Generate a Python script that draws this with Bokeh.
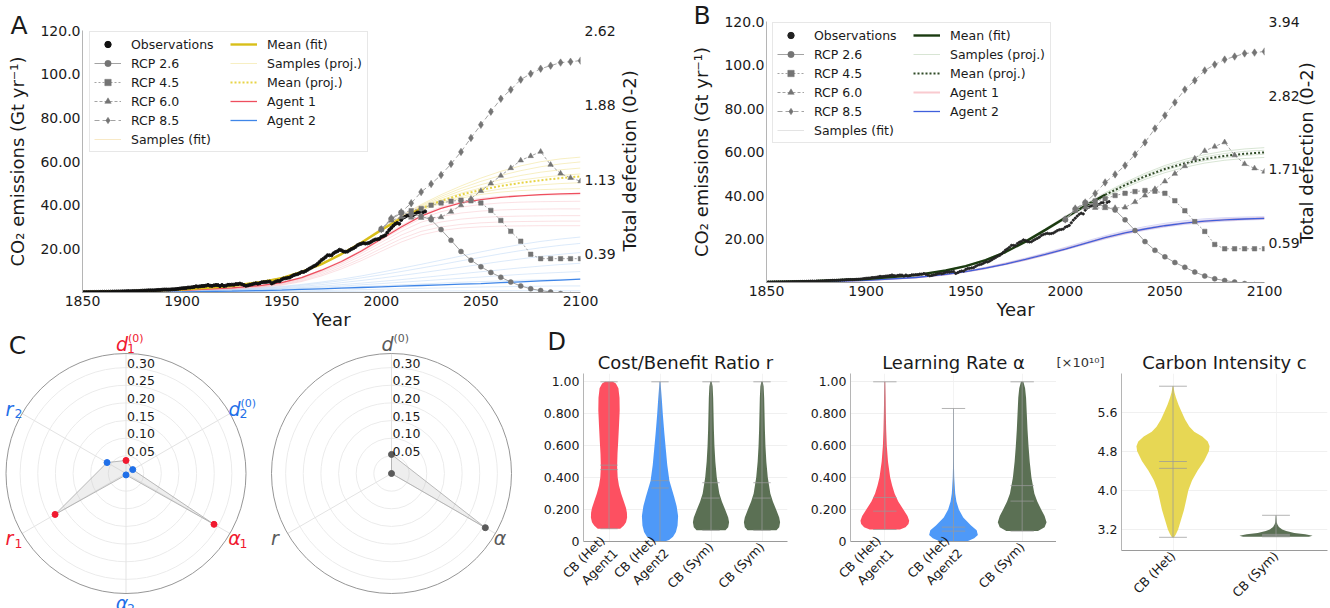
import math
from bokeh.plotting import figure
from bokeh.layouts import row, column
from bokeh.models import Range1d, LinearAxis, FixedTicker, Legend, LegendItem, Label, Title
from bokeh.embed import file_html
from bokeh.resources import INLINE
from bokeh.core.properties import value

FONT = "DejaVu Sans"

# ------------------------------------------------------------------ data
X_TICKS = [1850, 1900, 1950, 2000, 2050, 2100]
Y_TICKS = [20, 40, 60, 80, 100, 120]
Y_TICK_LABELS = ["20.00", "40.00", "60.00", "80.00", "100.0", "120.0"]
DEF_TICKS_A = [0.39, 1.13, 1.88, 2.62]
DEF_TICKS_B = [0.59, 1.71, 2.82, 3.94]
DEF_LABEL = "Total defection (0-2)"

OBS_FIRST_YEAR = 1850
OBS = [
    0.20, 0.20, 0.21, 0.22, 0.25, 0.25, 0.27, 0.27, 0.28, 0.29,
    0.33, 0.35, 0.35, 0.37, 0.40, 0.42, 0.44, 0.47, 0.48, 0.50,
    0.53, 0.57, 0.62, 0.66, 0.62, 0.66, 0.68, 0.70, 0.71, 0.76,
    0.85, 0.88, 0.93, 1.00, 1.01, 1.01, 1.03, 1.09, 1.19, 1.19,
    1.30, 1.36, 1.37, 1.34, 1.38, 1.46, 1.50, 1.57, 1.67, 1.82,
    1.95, 2.01, 2.07, 2.27, 2.28, 2.41, 2.56, 2.83, 2.70, 2.82,
    2.97, 3.01, 3.16, 3.45, 3.13, 3.03, 3.28, 3.45, 3.39, 2.95,
    3.44, 3.00, 3.14, 3.53, 3.53, 3.60, 3.59, 3.86, 3.85, 4.07,
    3.78, 3.40, 3.09, 3.26, 3.53, 3.71, 4.02, 4.23, 4.06, 4.29,
    4.70, 4.78, 4.80, 4.96, 5.02, 4.15, 4.54, 5.01, 5.29, 5.23,
    6.00, 6.41, 6.52, 6.71, 6.85, 7.43, 7.94, 8.22, 8.42, 8.87,
    9.39, 9.42, 9.82, 10.39, 10.97, 11.45, 12.03, 12.43, 13.12, 14.00,
    14.90, 15.50, 16.21, 17.08, 17.04, 17.02, 17.94, 18.52, 18.92, 19.58,
    19.31, 18.79, 18.63, 18.73, 19.35, 19.87, 20.31, 20.86, 21.64, 22.07,
    22.36, 22.63, 22.41, 22.51, 22.74, 23.30, 23.86, 24.25, 24.37, 24.59,
    25.43, 25.78, 26.23, 27.46, 28.65, 29.58, 30.54, 31.38, 31.86, 31.51,
    33.24, 34.28, 34.73, 35.22, 35.48, 35.45, 35.46, 35.93, 36.65, 36.70,
    34.81, 36.82, 37.15,
]

RCP_YEARS = [2000, 2005, 2010, 2015, 2020, 2025, 2030, 2035, 2040, 2045, 2050,
             2055, 2060, 2065, 2070, 2075, 2080, 2085, 2090, 2095, 2100]
RCP26 = [29.0, 33.5, 36.5, 36.0, 35.0, 33.3, 28.8, 23.9, 18.8, 14.8, 11.8,
         9.2, 7.0, 4.8, 3.0, 1.7, 0.9, 0.2, -0.5, -1.0, -1.5]
RCP45 = [29.0, 33.5, 36.5, 37.5, 38.5, 40.0, 41.0, 41.8, 42.3, 42.0, 41.0,
         37.6, 33.0, 28.0, 23.5, 17.5, 15.5, 15.5, 15.5, 15.5, 15.5]
RCP60 = [29.0, 33.0, 34.5, 34.3, 34.2, 34.3, 34.5, 37.0, 40.0, 43.0, 46.5,
         50.0, 53.5, 57.0, 60.5, 62.5, 64.5, 58.5, 54.5, 52.5, 51.0]
RCP85 = [29.0, 34.0, 36.8, 40.9, 46.0, 49.7, 53.8, 58.9, 64.4, 70.8, 76.8,
         82.8, 88.7, 92.9, 97.5, 100.2, 102.5, 103.9, 105.3, 105.7, 106.2]
RCP_NAMES = ["RCP 2.6", "RCP 4.5", "RCP 6.0", "RCP 8.5"]

MODEL_YEARS = [1850, 1875, 1900, 1925, 1940, 1950, 1960, 1970, 1980, 1990, 2000,
               2010, 2020, 2030, 2040, 2050, 2060, 2070, 2080, 2090, 2100]
FIT_END = 2020

# Panel A (heterogeneous)
A_MEAN = [0.3, 0.6, 1.4, 3.0, 4.8, 6.6, 9.4, 13.0, 17.6, 22.8, 28.6,
          34.0, 38.5, 42.0, 44.8, 47.0, 48.8, 50.2, 51.4, 52.4, 53.2]
A_SAMPLES = [
    [0.3, 0.6, 1.3, 2.9, 4.6, 6.4, 9.2, 12.8, 17.4, 22.6, 28.2, 33.4, 37.6, 40.8, 43.2, 44.9, 46.0, 46.7, 47.1, 47.4, 47.6],
    [0.3, 0.6, 1.4, 3.0, 4.7, 6.5, 9.3, 12.9, 17.5, 22.7, 28.4, 33.7, 38.0, 41.4, 44.0, 45.9, 47.4, 48.5, 49.3, 49.9, 50.3],
    [0.3, 0.6, 1.4, 3.0, 4.8, 6.6, 9.4, 13.0, 17.6, 22.9, 28.7, 34.1, 38.7, 42.4, 45.5, 47.9, 49.9, 51.5, 52.7, 53.6, 54.3],
    [0.3, 0.7, 1.5, 3.1, 4.9, 6.7, 9.5, 13.1, 17.8, 23.0, 28.9, 34.5, 39.3, 43.2, 46.6, 49.4, 51.7, 53.6, 55.1, 56.2, 57.0],
    [0.3, 0.7, 1.5, 3.1, 5.0, 6.8, 9.6, 13.2, 17.9, 23.2, 29.1, 34.8, 39.8, 44.0, 47.7, 50.9, 53.6, 55.8, 57.6, 58.9, 59.8],
    [0.3, 0.7, 1.5, 3.2, 5.0, 6.9, 9.7, 13.3, 18.0, 23.3, 29.3, 35.1, 40.3, 44.8, 48.8, 52.4, 55.5, 58.0, 59.9, 61.2, 62.0],
]
A_AGENT1 = [0.2, 0.4, 1.0, 2.1, 3.3, 4.5, 6.8, 10.2, 14.2, 19.0, 24.5,
            30.0, 35.0, 38.5, 41.0, 42.5, 43.6, 44.3, 44.8, 45.2, 45.4]
A_AGENT1_SAMPLES = [
    [0.2, 0.3, 0.7, 1.5, 2.4, 3.3, 5.0, 7.6, 10.8, 14.6, 18.9, 23.1, 26.4, 28.4, 29.5, 30.1, 30.4, 30.5, 30.6, 30.6, 30.6],
    [0.2, 0.3, 0.8, 1.6, 2.6, 3.6, 5.4, 8.2, 11.6, 15.6, 20.2, 24.6, 28.0, 30.0, 31.2, 31.9, 32.3, 32.5, 32.6, 32.7, 32.7],
    [0.2, 0.4, 0.8, 1.8, 2.8, 3.9, 5.9, 8.9, 12.5, 16.8, 21.6, 26.3, 30.0, 32.3, 33.6, 34.4, 34.8, 35.0, 35.1, 35.2, 35.2],
    [0.2, 0.4, 0.9, 1.9, 3.0, 4.2, 6.3, 9.5, 13.3, 17.9, 23.0, 28.0, 32.2, 34.8, 36.4, 37.3, 37.8, 38.1, 38.2, 38.3, 38.3],
    [0.2, 0.4, 1.0, 2.0, 3.2, 4.4, 6.6, 9.9, 13.9, 18.6, 24.0, 29.3, 33.9, 37.0, 39.1, 40.3, 41.0, 41.4, 41.6, 41.7, 41.8],
    [0.2, 0.4, 1.0, 2.1, 3.4, 4.6, 6.9, 10.4, 14.5, 19.4, 25.0, 30.6, 35.6, 39.2, 41.7, 43.2, 44.0, 44.4, 44.6, 44.7, 44.8],
]
A_AGENT2 = [0.05, 0.1, 0.3, 0.6, 0.9, 1.1, 1.4, 1.7, 2.0, 2.3, 2.6,
            2.9, 3.2, 3.5, 3.8, 4.1, 4.5, 4.9, 5.3, 5.7, 6.1]
A_AGENT2_SAMPLES = [
    [0.0, 0.05, 0.1, 0.2, 0.3, 0.35, 0.4, 0.45, 0.5, 0.55, 0.6, 0.65, 0.7, 0.72, 0.74, 0.76, 0.78, 0.8, 0.8, 0.8, 0.8],
    [0.02, 0.05, 0.15, 0.3, 0.5, 0.6, 0.75, 0.9, 1.1, 1.3, 1.5, 1.7, 1.9, 2.1, 2.3, 2.5, 2.65, 2.8, 2.9, 3.0, 3.0],
    [0.05, 0.1, 0.3, 0.6, 0.9, 1.2, 1.5, 1.9, 2.3, 2.7, 3.1, 3.5, 3.9, 4.3, 4.7, 5.0, 5.3, 5.6, 5.8, 6.0, 6.1],
    [0.05, 0.15, 0.4, 0.8, 1.2, 1.5, 1.9, 2.4, 2.9, 3.5, 4.1, 4.7, 5.3, 5.9, 6.5, 7.1, 7.7, 8.3, 8.8, 9.2, 9.6],
    [0.05, 0.15, 0.45, 0.9, 1.4, 1.8, 2.3, 2.9, 3.6, 4.3, 5.1, 5.9, 6.8, 7.7, 8.6, 9.5, 10.4, 11.3, 12.1, 12.8, 13.4],
    [0.05, 0.2, 0.5, 1.0, 1.6, 2.1, 2.8, 3.6, 4.5, 5.5, 6.6, 7.8, 9.0, 10.3, 11.6, 12.9, 14.2, 15.4, 16.5, 17.5, 18.3],
    [0.05, 0.2, 0.6, 1.2, 1.9, 2.5, 3.3, 4.3, 5.4, 6.7, 8.1, 9.6, 11.2, 12.8, 14.5, 16.1, 17.7, 19.2, 20.5, 21.6, 22.5],
    [0.05, 0.2, 0.6, 1.3, 2.1, 2.8, 3.7, 4.8, 6.1, 7.6, 9.3, 11.1, 12.9, 14.8, 16.7, 18.6, 20.4, 22.0, 23.4, 24.5, 25.4],
]

# Panel B (symmetric)
B_MEAN = [0.3, 0.7, 1.6, 3.4, 5.5, 7.5, 10.3, 14.0, 18.8, 24.2, 29.8,
          35.3, 40.3, 44.8, 48.8, 52.2, 54.8, 56.8, 58.2, 59.2, 59.8]
B_SAMPLES = [
    [0.3, 0.7, 1.5, 3.3, 5.3, 7.3, 10.0, 13.6, 18.3, 23.6, 29.1, 34.5, 39.3, 43.6, 47.4, 50.5, 53.0, 54.9, 56.2, 57.0, 57.5],
    [0.3, 0.7, 1.6, 3.4, 5.4, 7.4, 10.2, 13.9, 18.6, 24.0, 29.6, 35.0, 39.9, 44.3, 48.2, 51.5, 54.1, 56.0, 57.4, 58.4, 59.0],
    [0.3, 0.7, 1.6, 3.5, 5.6, 7.6, 10.4, 14.2, 19.0, 24.5, 30.1, 35.7, 40.8, 45.4, 49.5, 53.0, 55.7, 57.8, 59.3, 60.3, 60.8],
    [0.3, 0.8, 1.7, 3.6, 5.7, 7.8, 10.6, 14.4, 19.3, 24.8, 30.5, 36.1, 41.3, 46.0, 50.2, 53.8, 56.6, 58.8, 60.4, 61.4, 62.0],
]
B_AGENT1 = [0.1, 0.35, 1.0, 2.3, 3.7, 5.0, 6.6, 8.5, 10.6, 12.9, 15.4,
            18.0, 20.6, 22.8, 24.6, 26.1, 27.3, 28.2, 28.8, 29.2, 29.5]
B_AGENT2 = [0.1, 0.35, 1.0, 2.3, 3.7, 5.0, 6.6, 8.5, 10.6, 12.9, 15.4,
            18.0, 20.6, 22.8, 24.6, 26.1, 27.3, 28.2, 28.8, 29.2, 29.5]
B_AGENT_SAMPLES = [
    [0.1, 0.3, 0.9, 2.2, 3.5, 4.8, 6.3, 8.2, 10.2, 12.5, 15.0, 17.5, 20.0, 22.2, 24.0, 25.5, 26.7, 27.6, 28.2, 28.7, 29.0],
    [0.1, 0.35, 1.0, 2.4, 3.8, 5.1, 6.8, 8.7, 10.9, 13.3, 15.8, 18.4, 21.0, 23.3, 25.1, 26.6, 27.8, 28.7, 29.3, 29.6, 29.8],
    [0.1, 0.4, 1.1, 2.5, 3.9, 5.3, 7.0, 9.0, 11.2, 13.6, 16.2, 18.9, 21.5, 23.8, 25.7, 27.2, 28.4, 29.3, 29.8, 30.1, 30.3],
]

# Panel C (radar)
R_MAX = 0.34
R_TICKS = [0.05, 0.10, 0.15, 0.20, 0.25, 0.30]
R_TICK_LABELS = ["0.05", "0.10", "0.15", "0.20", "0.25", "0.30"]
HET_MAIN = ["d", "d", "α", "α", "r", "r"]
HET_SUP = ["(0)", "(0)", "", "", "", ""]
HET_SUB = ["1", "2", "1", "2", "1", "2"]
HET_VALUES = [0.037, 0.022, 0.288, 0.004, 0.232, 0.062]
HET_AGENT = [1, 2, 1, 2, 1, 2]
SYM_MAIN = ["d", "α", "r"]
SYM_SUP = ["(0)", "", ""]
SYM_SUB = ["", "", ""]
SYM_VALUES = [0.054, 0.307, 0.0]

# Panel D (violins): density profiles (relative widths) at given levels
R_CATS = ["CB (Het)\nAgent1", "CB (Het)\nAgent2", "CB (Sym)", "CB (Sym)"]
A_CATS = ["CB (Het)\nAgent1", "CB (Het)\nAgent2", "CB (Sym)"]
C_CATS = ["CB (Het)", "CB (Sym)"]
UNIT_TICKS = [0, 0.2, 0.4, 0.6, 0.8, 1.0]
UNIT_TICK_LABELS = ["0", "0.200", "0.400", "0.600", "0.800", "1.00"]
C_TICKS = [3.2, 4.0, 4.8, 5.6]
C_TICK_LABELS = ["3.2", "4.0", "4.8", "5.6"]

VR_A1_Y = [0.08, 0.10, 0.12, 0.15, 0.18, 0.21, 0.25, 0.30, 0.35, 0.40, 0.47, 0.55, 0.63, 0.72, 0.82, 0.90, 0.96, 0.99, 1.00]
VR_A1_W = [0.62, 0.82, 0.94, 1.00, 0.99, 0.94, 0.82, 0.67, 0.55, 0.48, 0.45, 0.47, 0.51, 0.55, 0.59, 0.58, 0.52, 0.38, 0.22]
VR_A2_Y = [0.0, 0.01, 0.03, 0.06, 0.10, 0.16, 0.22, 0.28, 0.38, 0.48, 0.58, 0.68, 0.79, 0.89, 0.95, 1.0]
VR_A2_W = [0.25, 0.50, 0.72, 0.88, 0.97, 1.00, 0.92, 0.78, 0.52, 0.40, 0.32, 0.24, 0.16, 0.10, 0.06, 0.02]
VR_S_Y = [0.07, 0.09, 0.12, 0.15, 0.20, 0.25, 0.30, 0.40, 0.50, 0.60, 0.70, 0.80, 0.90, 0.97, 1.00]
VR_S_W = [0.80, 0.95, 1.00, 0.95, 0.78, 0.60, 0.46, 0.32, 0.24, 0.19, 0.16, 0.14, 0.12, 0.09, 0.04]
VA_A1_Y = [0.075, 0.09, 0.11, 0.13, 0.16, 0.20, 0.25, 0.30, 0.35, 0.40, 0.50, 0.60, 0.70, 0.80, 0.90, 1.00]
VA_A1_W = [0.62, 0.85, 0.97, 1.00, 0.93, 0.76, 0.55, 0.40, 0.30, 0.22, 0.13, 0.08, 0.055, 0.04, 0.03, 0.015]
VA_A2_Y = [0.0, 0.02, 0.04, 0.07, 0.10, 0.15, 0.20, 0.25, 0.30, 0.35, 0.40, 0.50, 0.60, 0.83]
VA_A2_W = [0.55, 0.85, 1.00, 0.95, 0.72, 0.40, 0.22, 0.12, 0.07, 0.05, 0.03, 0.015, 0.01, 0.005]
VA_S_Y = [0.065, 0.09, 0.12, 0.16, 0.20, 0.25, 0.30, 0.40, 0.50, 0.60, 0.70, 0.80, 0.90, 0.96, 1.00]
VA_S_W = [0.65, 0.92, 1.00, 0.92, 0.78, 0.62, 0.50, 0.38, 0.31, 0.26, 0.22, 0.19, 0.16, 0.12, 0.05]
VC_H_Y = [3.04, 3.10, 3.20, 3.40, 3.60, 3.80, 4.00, 4.20, 4.40, 4.60, 4.80, 4.90, 5.00, 5.10, 5.20, 5.30, 5.45, 5.60, 5.75, 5.90, 6.00, 6.13]
VC_H_W = [0.03, 0.08, 0.14, 0.22, 0.30, 0.36, 0.42, 0.52, 0.67, 0.85, 0.98, 1.00, 0.95, 0.80, 0.58, 0.45, 0.33, 0.24, 0.15, 0.08, 0.04, 0.01]
VC_S_Y = [3.05, 3.07, 3.10, 3.13, 3.17, 3.20, 3.25, 3.30, 3.35, 3.49]
VC_S_W = [0.90, 1.00, 0.80, 0.50, 0.28, 0.17, 0.08, 0.04, 0.02, 0.005]

# stats: (min, max, mean, median)
VR_STATS = [(0.08, 1.0, 0.478, 0.45), (0.0, 1.0, 0.381, 0.335), (0.07, 1.0, 0.368, 0.272), (0.07, 1.0, 0.368, 0.272)]
VA_STATS = [(0.075, 1.0, 0.276, 0.19), (0.0, 0.833, 0.09, 0.065), (0.065, 1.0, 0.35, 0.253)]
VC_STATS = [(3.04, 6.13, 4.59, 4.45), (3.05, 3.49, 3.10, 3.08)]

# ------------------------------------------------------------------ styles
RED = "#f0192f"
BLUE = "#1f6fe8"
V_RED = "#fd4a5c"
V_BLUE = "#4896f8"
V_GREEN = "#566b4e"
V_YELLOW = "#e6d64e"
TXT = "#1a1a1a"
TOP_H = 332
BOT_H = 608 - TOP_H


def style_axis(ax, size="14px", line="#9a9a9a"):
    ax.major_tick_line_color = None
    ax.minor_tick_line_color = None
    ax.major_tick_out = 0
    ax.major_tick_in = 0
    ax.minor_tick_out = 0
    ax.axis_line_color = line
    ax.major_label_text_font = FONT
    ax.major_label_text_font_size = size
    ax.major_label_text_color = TXT
    ax.axis_label_text_font = FONT
    ax.axis_label_text_font_style = "normal"
    ax.axis_label_text_color = TXT


def split(vals):
    nfit = len([y for y in MODEL_YEARS if y <= FIT_END])
    return (MODEL_YEARS[:nfit], vals[:nfit], MODEL_YEARS[nfit - 1:], vals[nfit - 1:])


def letter_title(p, text, offset, standoff, size="25px"):
    p.add_layout(Title(text=text, align="left", offset=offset, standoff=standoff,
                       text_font=FONT, text_font_size=size, text_font_style="normal",
                       text_color=TXT), "above")


def ts_panel(width, left, right, top, bottom, def_ticks, label_anchor, label_standoff, letter,
             obs_size, obs_color,
             mean, mean_color, mean_proj_color, samples, samp_fit_color, samp_proj_color, samp_alpha,
             agent1, agent2, agent1_samples, agent2_samples, a1_style, a2_style, legend_loc):
    p = figure(width=width, height=TOP_H, x_range=Range1d(1850, 2100), y_range=Range1d(0, 120),
               output_backend="svg", toolbar_location=None, frame_align=False,
               min_border_left=left, min_border_right=right, min_border_top=top, min_border_bottom=bottom)
    p.outline_line_color = None
    p.xgrid.visible = False
    p.ygrid.visible = False
    style_axis(p.xaxis[0])
    style_axis(p.yaxis[0])
    p.xaxis.ticker = FixedTicker(ticks=X_TICKS)
    p.xaxis.major_label_standoff = 3
    p.xaxis.axis_label = "Year"
    p.xaxis.axis_label_text_font_size = "18px"
    p.xaxis.axis_label_standoff = 0
    p.yaxis.ticker = FixedTicker(ticks=Y_TICKS)
    p.yaxis.major_label_overrides = {t: l for t, l in zip(Y_TICKS, Y_TICK_LABELS)}
    p.yaxis.major_label_standoff = 2
    p.yaxis.axis_label = "CO₂ emissions (Gt yr⁻¹)"
    p.yaxis.axis_label_text_font_size = "18px"
    p.yaxis.axis_label_standoff = 9
    p.yaxis.axis_line_color = "#b5b5b5"

    p.extra_y_ranges = {"def": Range1d(0, def_ticks[-1])}
    rax = LinearAxis(y_range_name="def", ticker=FixedTicker(ticks=def_ticks))
    style_axis(rax, line=None)
    rax.major_label_standoff = 4
    p.add_layout(rax, "right")
    # axis title drawn as a single rotated tick label (reads bottom-to-top, starts at anchor)
    lax = LinearAxis(y_range_name="def", ticker=FixedTicker(ticks=[label_anchor]))
    style_axis(lax, size="18px", line=None)
    lax.major_label_overrides = {label_anchor: DEF_LABEL}
    lax.major_label_orientation = math.pi / 2
    lax.major_label_standoff = label_standoff
    p.add_layout(lax, "right")

    samp_fit_r = samp_proj_r = None
    for s in samples:
        fx, fy, px_, py_ = split(s)
        r1 = p.line(fx, fy, line_color=samp_fit_color, line_alpha=samp_alpha[0], line_width=1)
        r2 = p.line(px_, py_, line_color=samp_proj_color, line_alpha=samp_alpha[1], line_width=1)
        if samp_fit_r is None:
            samp_fit_r, samp_proj_r = r1, r2
    for s in agent1_samples:
        p.line(MODEL_YEARS, s, line_color=a1_style[2], line_alpha=a1_style[3], line_width=1)
    for s in agent2_samples:
        p.line(MODEL_YEARS, s, line_color=a2_style[2], line_alpha=a2_style[3], line_width=1)
    ag1 = p.line(MODEL_YEARS, agent1, line_color=a1_style[0], line_width=a1_style[1], line_alpha=a1_style[4])
    ag2 = p.line(MODEL_YEARS, agent2, line_color=a2_style[0], line_width=a2_style[1], line_alpha=a2_style[4])
    fx, fy, px_, py_ = split(mean)
    mproj = p.line(px_, py_, line_color=mean_proj_color, line_width=2, line_dash="2 2")
    mfit = p.line(fx, fy, line_color=mean_color, line_width=2.4)
    obs_years = list(range(OBS_FIRST_YEAR, OBS_FIRST_YEAR + len(OBS)))
    obs = p.scatter(obs_years, OBS, size=obs_size, color=obs_color)

    rcp_r = []
    for vals, (marker, dash, msize) in zip([RCP26, RCP45, RCP60, RCP85],
                                           [("circle", "solid", 5), ("square", "2 2", 4.5),
                                            ("triangle", "3 2", 5.5), ("diamond", "5 3", 7.5)]):
        l = p.line(RCP_YEARS, vals, line_color="#a3a3a3", line_width=1, line_dash=dash)
        m = p.scatter(RCP_YEARS, vals, marker=marker, size=msize, fill_color="#747474",
                      line_color="#747474", line_width=0.5)
        rcp_r.append([l, m])

    items = [LegendItem(label="Observations", renderers=[obs])]
    for name, rr in zip(RCP_NAMES, rcp_r):
        items.append(LegendItem(label=name, renderers=rr))
    items.append(LegendItem(label="Samples (fit)", renderers=[samp_fit_r]))
    items += [LegendItem(label="Mean (fit)", renderers=[mfit]),
              LegendItem(label="Samples (proj.)", renderers=[samp_proj_r]),
              LegendItem(label="Mean (proj.)", renderers=[mproj]),
              LegendItem(label="Agent 1", renderers=[ag1]),
              LegendItem(label="Agent 2", renderers=[ag2])]
    leg = Legend(items=items, location=legend_loc, ncols=2,
                 label_text_font=FONT, label_text_font_size="12.5px", label_text_color=TXT,
                 glyph_width=27, glyph_height=16, label_height=16, label_width=96,
                 label_standoff=10, spacing=3, padding=4, margin=0,
                 border_line_color="#cfcfcf", border_line_width=1, background_fill_alpha=0.85)
    p.add_layout(leg)
    letter_title(p, letter[0], letter[1], letter[2])
    return p


pA = ts_panel(680, 82, 100, 30, 10, DEF_TICKS_A, 0.41, 11, ("A", -72, -18), 3.0, "#111111",
              A_MEAN, "#d8bf19", "#e7d446", A_SAMPLES, "#efcf80", "#ead86a", (0.45, 0.4),
              A_AGENT1, A_AGENT2, A_AGENT1_SAMPLES, A_AGENT2_SAMPLES,
              ("#ee4e5e", 1.3, "#f29aa4", 0.3, 1.0), ("#3f86e8", 1.3, "#9cc2f0", 0.35, 1.0), (7, 140))
pB = ts_panel(650, 86, 66, 21, 50, DEF_TICKS_B, 0.59, 4, ("B", -73, -17), 2.2, "#222222",
              B_MEAN, "#1b3b10", "#2f4a26", B_SAMPLES, "#c8c8c8", "#a9c6a0", (0.5, 0.45),
              B_AGENT1, B_AGENT2, [], B_AGENT_SAMPLES,
              ("#f07a88", 2.0, "#f07a88", 0.3, 0.4), ("#3f5fdc", 1.3, "#7d7de0", 0.3, 1.0), (6, 139))


# ------------------------------------------------------------------ panel C
def radar(width, cx, mains, sups, subs, values, colors, letter=None):
    s_px = 120 / R_MAX
    cy = 473 - TOP_H
    p = figure(width=width, height=BOT_H, output_backend="svg", toolbar_location=None, frame_align=False,
               x_range=Range1d(-cx / s_px, (width - cx) / s_px),
               y_range=Range1d(-(BOT_H - cy) / s_px, cy / s_px),
               x_axis_location=None, y_axis_location=None, min_border=0)
    p.outline_line_color = None
    p.grid.visible = False
    n = len(values)
    ang = [math.radians(90 - i * 360.0 / n) for i in range(n)]
    p.circle(x=[0] * len(R_TICKS), y=[0] * len(R_TICKS), radius=R_TICKS,
             fill_color=None, line_color="#ebebeb", line_width=1)
    p.segment(x0=[0] * n, y0=[0] * n, x1=[R_MAX * math.cos(a) for a in ang],
              y1=[R_MAX * math.sin(a) for a in ang], line_color="#e3e3e3", line_width=1)
    p.circle(x=[0], y=[0], radius=[R_MAX], fill_color=None, line_color="#8a8a8a", line_width=0.9)
    xs = [v * math.cos(a) for v, a in zip(values, ang)]
    ys = [v * math.sin(a) for v, a in zip(values, ang)]
    p.patch(xs, ys, fill_color="#c8c8c8", fill_alpha=0.3, line_color="#a8a8a8", line_width=0.8)
    p.scatter(xs, ys, size=6, color=colors)
    p.text(x=[0] * len(R_TICKS), y=R_TICKS, text=R_TICK_LABELS, text_font=value(FONT),
           text_font_size="12.5px", text_color=TXT, text_align="left", text_baseline="bottom", x_offset=1)
    rl = 0.368
    lx = [rl * math.cos(a) for a in ang]
    ly = [rl * math.sin(a) for a in ang]
    p.text(x=lx, y=ly, text=mains, text_font=value(FONT), text_font_size="19px",
           text_font_style="italic", text_color=colors, text_align="center", text_baseline="middle", x_offset=-4)
    idx = [i for i in range(n) if sups[i]]
    if idx:
        p.text(x=[lx[i] for i in idx], y=[ly[i] for i in idx], text=[sups[i] for i in idx],
               text_font=value(FONT), text_font_size="11px", text_color=[colors[i] for i in idx],
               text_align="left", text_baseline="middle", x_offset=2, y_offset=-5)
    idx = [i for i in range(n) if subs[i]]
    if idx:
        p.text(x=[lx[i] for i in idx], y=[ly[i] for i in idx], text=[subs[i] for i in idx],
               text_font=value(FONT), text_font_size="12.5px", text_color=[colors[i] for i in idx],
               text_align="left", text_baseline="middle", x_offset=1, y_offset=5)
    if letter:
        p.add_layout(Label(x=17, y=BOT_H - (345 - TOP_H), x_units="screen", y_units="screen", text=letter,
                           text_font=FONT, text_font_size="25px", text_color=TXT,
                           text_align="center", text_baseline="middle"))
    return p


het_colors = [RED if a == 1 else BLUE for a in HET_AGENT]
pC1 = radar(258, 125.5, HET_MAIN, HET_SUP, HET_SUB, HET_VALUES, het_colors, letter="C")
pC2 = radar(282, 133, SYM_MAIN, SYM_SUP, SYM_SUB, SYM_VALUES, ["#5a5a5a"] * 3)


# ------------------------------------------------------------------ panel D
def violin_panel(width, left, right, title, yr, yticks, ylabels, cats, shapes, stats, colors, cap):
    p = figure(width=width, height=BOT_H, output_backend="svg", toolbar_location=None, frame_align=False,
               x_range=Range1d(-0.5, len(cats) - 0.5), y_range=Range1d(*yr),
               min_border_left=left, min_border_right=right, min_border_top=373 - TOP_H,
               min_border_bottom=52)
    p.outline_line_color = None
    p.add_layout(Title(text=title, align="center", standoff=2, text_font=FONT, text_font_size="18px",
                       text_font_style="normal", text_color=TXT), "above")
    style_axis(p.xaxis[0], size="12.5px")
    style_axis(p.yaxis[0], size="12.5px", line="#b5b5b5")
    p.xaxis.ticker = FixedTicker(ticks=list(range(len(cats))))
    p.xaxis.major_label_overrides = {i: c for i, c in enumerate(cats)}
    p.xaxis.major_label_orientation = math.pi / 4
    p.xaxis.major_label_standoff = 3
    p.yaxis.ticker = FixedTicker(ticks=yticks)
    p.yaxis.major_label_overrides = {t: l for t, l in zip(yticks, ylabels)}
    p.yaxis.major_label_standoff = 4
    p.ygrid.ticker = FixedTicker(ticks=yticks)
    p.xgrid.ticker = FixedTicker(ticks=list(range(len(cats))))
    p.ygrid.grid_line_color = "#f0f0f0"
    p.xgrid.grid_line_color = "#f3f3f3"
    half = 0.355
    for i, ((ys, ws), st, col) in enumerate(zip(shapes, stats, colors)):
        hw = [w * half for w in ws]
        p.harea(y=ys, x1=[i - h for h in hw], x2=[i + h for h in hw], fill_color=col, fill_alpha=0.97)
        mn, mx, mean, med = st
        p.segment(x0=[i], y0=[mn], x1=[i], y1=[mx], line_color="#9a9a9a", line_alpha=0.75, line_width=1)
        p.segment(x0=[i - cap] * 4, y0=[mn, mx, mean, med], x1=[i + cap] * 4, y1=[mn, mx, mean, med],
                  line_color="#9a9a9a", line_alpha=0.75, line_width=1)
    return p


pD1 = violin_panel(260, 42, 13, "Cost/Benefit Ratio r", (0, 1.052), UNIT_TICKS, UNIT_TICK_LABELS, R_CATS,
                   [(VR_A1_Y, VR_A1_W), (VR_A2_Y, VR_A2_W), (VR_S_Y, VR_S_W), (VR_S_Y, VR_S_W)],
                   VR_STATS, [V_RED, V_BLUE, V_GREEN, V_GREEN], 0.17)
letter_title(pD1, "D", -36, -15, size="24px")
pD2 = violin_panel(256, 50, 0, "Learning Rate α", (0, 1.052), UNIT_TICKS, UNIT_TICK_LABELS, A_CATS,
                   [(VA_A1_Y, VA_A1_W), (VA_A2_Y, VA_A2_W), (VA_S_Y, VA_S_W)],
                   VA_STATS, [V_RED, V_BLUE, V_GREEN], 0.17)
pD3 = violin_panel(274, 65, 3, "Carbon Intensity c", (2.77, 6.39), C_TICKS, C_TICK_LABELS, C_CATS,
                   [(VC_H_Y, VC_H_W), (VC_S_Y, VC_S_W)],
                   VC_STATS, [V_YELLOW, V_GREEN], 0.135)
pD3.add_layout(Title(text="[×10¹⁰]", align="left", offset=-65, standoff=-42, text_font=FONT,
                     text_font_size="13px", text_font_style="normal", text_color="#333333"), "above")

layout = column(row(pA, pB), row(pC1, pC2, pD1, pD2, pD3))
open("out.html", "w").write(file_html(layout, INLINE, title="chart"))
